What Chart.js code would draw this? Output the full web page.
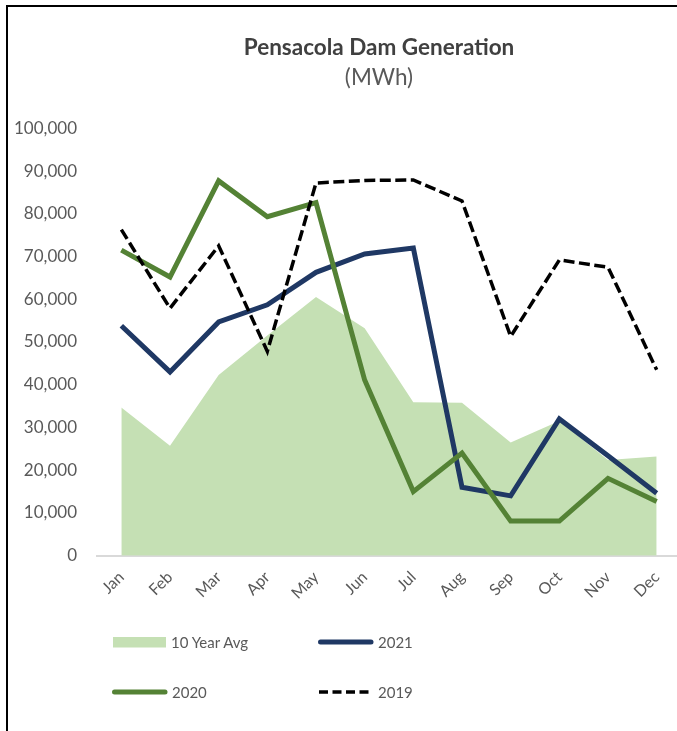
<!DOCTYPE html>
<html>
<head>
<meta charset="utf-8">
<script src="https://cdn.jsdelivr.net/npm/chart.js@4/dist/chart.umd.min.js"></script>
<style>
  html, body { margin: 0; padding: 0; background: #fff; width: 677px; height: 731px; overflow: hidden; position: relative; }
  #frame { position: absolute; left: 6px; top: 5px; width: 700px; height: 740px; border-left: 2px solid #000; border-top: 2px solid #000; }
  #wrap { position: absolute; left: 0; top: 0; width: 700px; height: 620px; }
  #legend { position: absolute; left: 0; top: 0; width: 677px; height: 731px; pointer-events: none;
            font-family: Lato, "DejaVu Sans", sans-serif; font-size: 15px; color: #595959; }
  .item { position: absolute; display: flex; align-items: center; height: 24px; }
  .item span { margin-left: 4px; line-height: 24px; }
</style>
</head>
<body>
<div id="frame"></div>
<div id="wrap"><canvas id="c"></canvas></div>
<div id="legend"></div>
<script>
const months = ["Jan","Feb","Mar","Apr","May","Jun","Jul","Aug","Sep","Oct","Nov","Dec"];
const avg10  = [34700, 25700, 42300, 51500, 60500, 53200, 35900, 35800, 26500, 31500, 22400, 23200];
const y2021  = [53800, 43000, 54700, 58700, 66300, 70600, 72000, 16000, 14000, 32000, 23400, 14600];
const y2020  = [71500, 65200, 87700, 79300, 82600, 41100, 15000, 24000, 8100, 8100, 18100, 12700];
const y2019  = [76300, 57900, 72500, 47800, 87200, 87800, 87900, 83000, 51300, 69200, 67500, 43500];
const yTicksMax = 100000;
const yStep = 10000;
const titleText = "Pensacola Dam Generation";
const subtitleText = "(MWh)";

const TEXT = "#595959";
const FONT = "Lato, 'DejaVu Sans', sans-serif";

const titlePlugin = {
  id: "centeredTitle",
  afterDraw(chart) {
    const ctx = chart.ctx;
    ctx.save();
    ctx.textAlign = "center";
    ctx.textBaseline = "alphabetic";
    ctx.fillStyle = "#404040";
    ctx.font = "bold 22.5px " + FONT;
    ctx.fillText(titleText, 379, 55);
    ctx.fillStyle = TEXT;
    ctx.font = "22.5px " + FONT;
    ctx.fillText(subtitleText, 379, 85);
    ctx.restore();
  }
};

const chart = new Chart(document.getElementById("c"), {
  type: "line",
  data: {
    labels: months,
    datasets: [
      { label: "10 Year Avg", data: avg10, fill: "origin", backgroundColor: "#C5E0B4", borderColor: "#C5E0B4",
        borderWidth: 0, pointRadius: 0, tension: 0, order: 4 },
      { label: "2021", data: y2021, fill: false, borderColor: "#1F3864", backgroundColor: "#1F3864",
        borderWidth: 5, pointRadius: 0, tension: 0, order: 3 },
      { label: "2020", data: y2020, fill: false, borderColor: "#548235", backgroundColor: "#548235",
        borderWidth: 5, pointRadius: 0, tension: 0, order: 2 },
      { label: "2019", data: y2019, fill: false, borderColor: "#000000", backgroundColor: "#000000",
        borderWidth: 3.5, borderDash: [11, 4.5], pointRadius: 0, tension: 0, order: 1 }
    ]
  },
  plugins: [titlePlugin],
  options: {
    responsive: true,
    maintainAspectRatio: false,
    animation: false,
    devicePixelRatio: 1,
    layout: { padding: { left: 0, right: 19, top: 128.3, bottom: 0 } },
    plugins: {
      legend: { display: false },
      tooltip: { enabled: false },
      title: { display: false },
      subtitle: { display: false }
    },
    scales: {
      x: {
        offset: true,
        grid: { display: false, drawTicks: false },
        border: { display: true, color: "#D9D9D9", width: 2 },
        ticks: { color: TEXT, font: { family: FONT, size: 16 }, maxRotation: 45, minRotation: 45, padding: 12, autoSkip: false },
        afterFit: (s) => { s.height = 620 - 555.7; }
      },
      y: {
        min: 0, max: yTicksMax,
        grid: { display: false, drawTicks: false },
        border: { display: false },
        ticks: { stepSize: yStep, color: TEXT, font: { family: FONT, size: 17 }, padding: 20,
                 callback: (v) => Number(v).toLocaleString("en-US") },
        afterFit: (s) => { s.width = 97; }
      }
    }
  }
});

// HTML legend built from the chart's datasets (2 x 2 grid)
const legendPos = [ [113, 630], [316, 630], [110, 680], [316, 680] ];
const leg = document.getElementById("legend");
chart.data.datasets.forEach((ds, i) => {
  const it = document.createElement("div");
  it.className = "item";
  it.style.left = legendPos[i][0] + "px";
  it.style.top = legendPos[i][1] + "px";
  let sw;
  if (ds.fill === "origin") {
    sw = '<svg width="54" height="12"><rect x="0" y="1" width="53" height="10.5" fill="' + ds.backgroundColor + '"/></svg>';
  } else if (ds.borderDash) {
    sw = '<svg width="58" height="12"><line x1="3" y1="6" x2="57" y2="6" stroke="' + ds.borderColor +
         '" stroke-width="3.5" stroke-dasharray="9 4.5"/></svg>';
  } else {
    sw = '<svg width="58" height="12"><line x1="4.5" y1="6" x2="55" y2="6" stroke="' + ds.borderColor +
         '" stroke-width="5" stroke-linecap="round"/></svg>';
  }
  it.innerHTML = sw + "<span>" + ds.label + "</span>";
  leg.appendChild(it);
});
</script>
</body>
</html>
